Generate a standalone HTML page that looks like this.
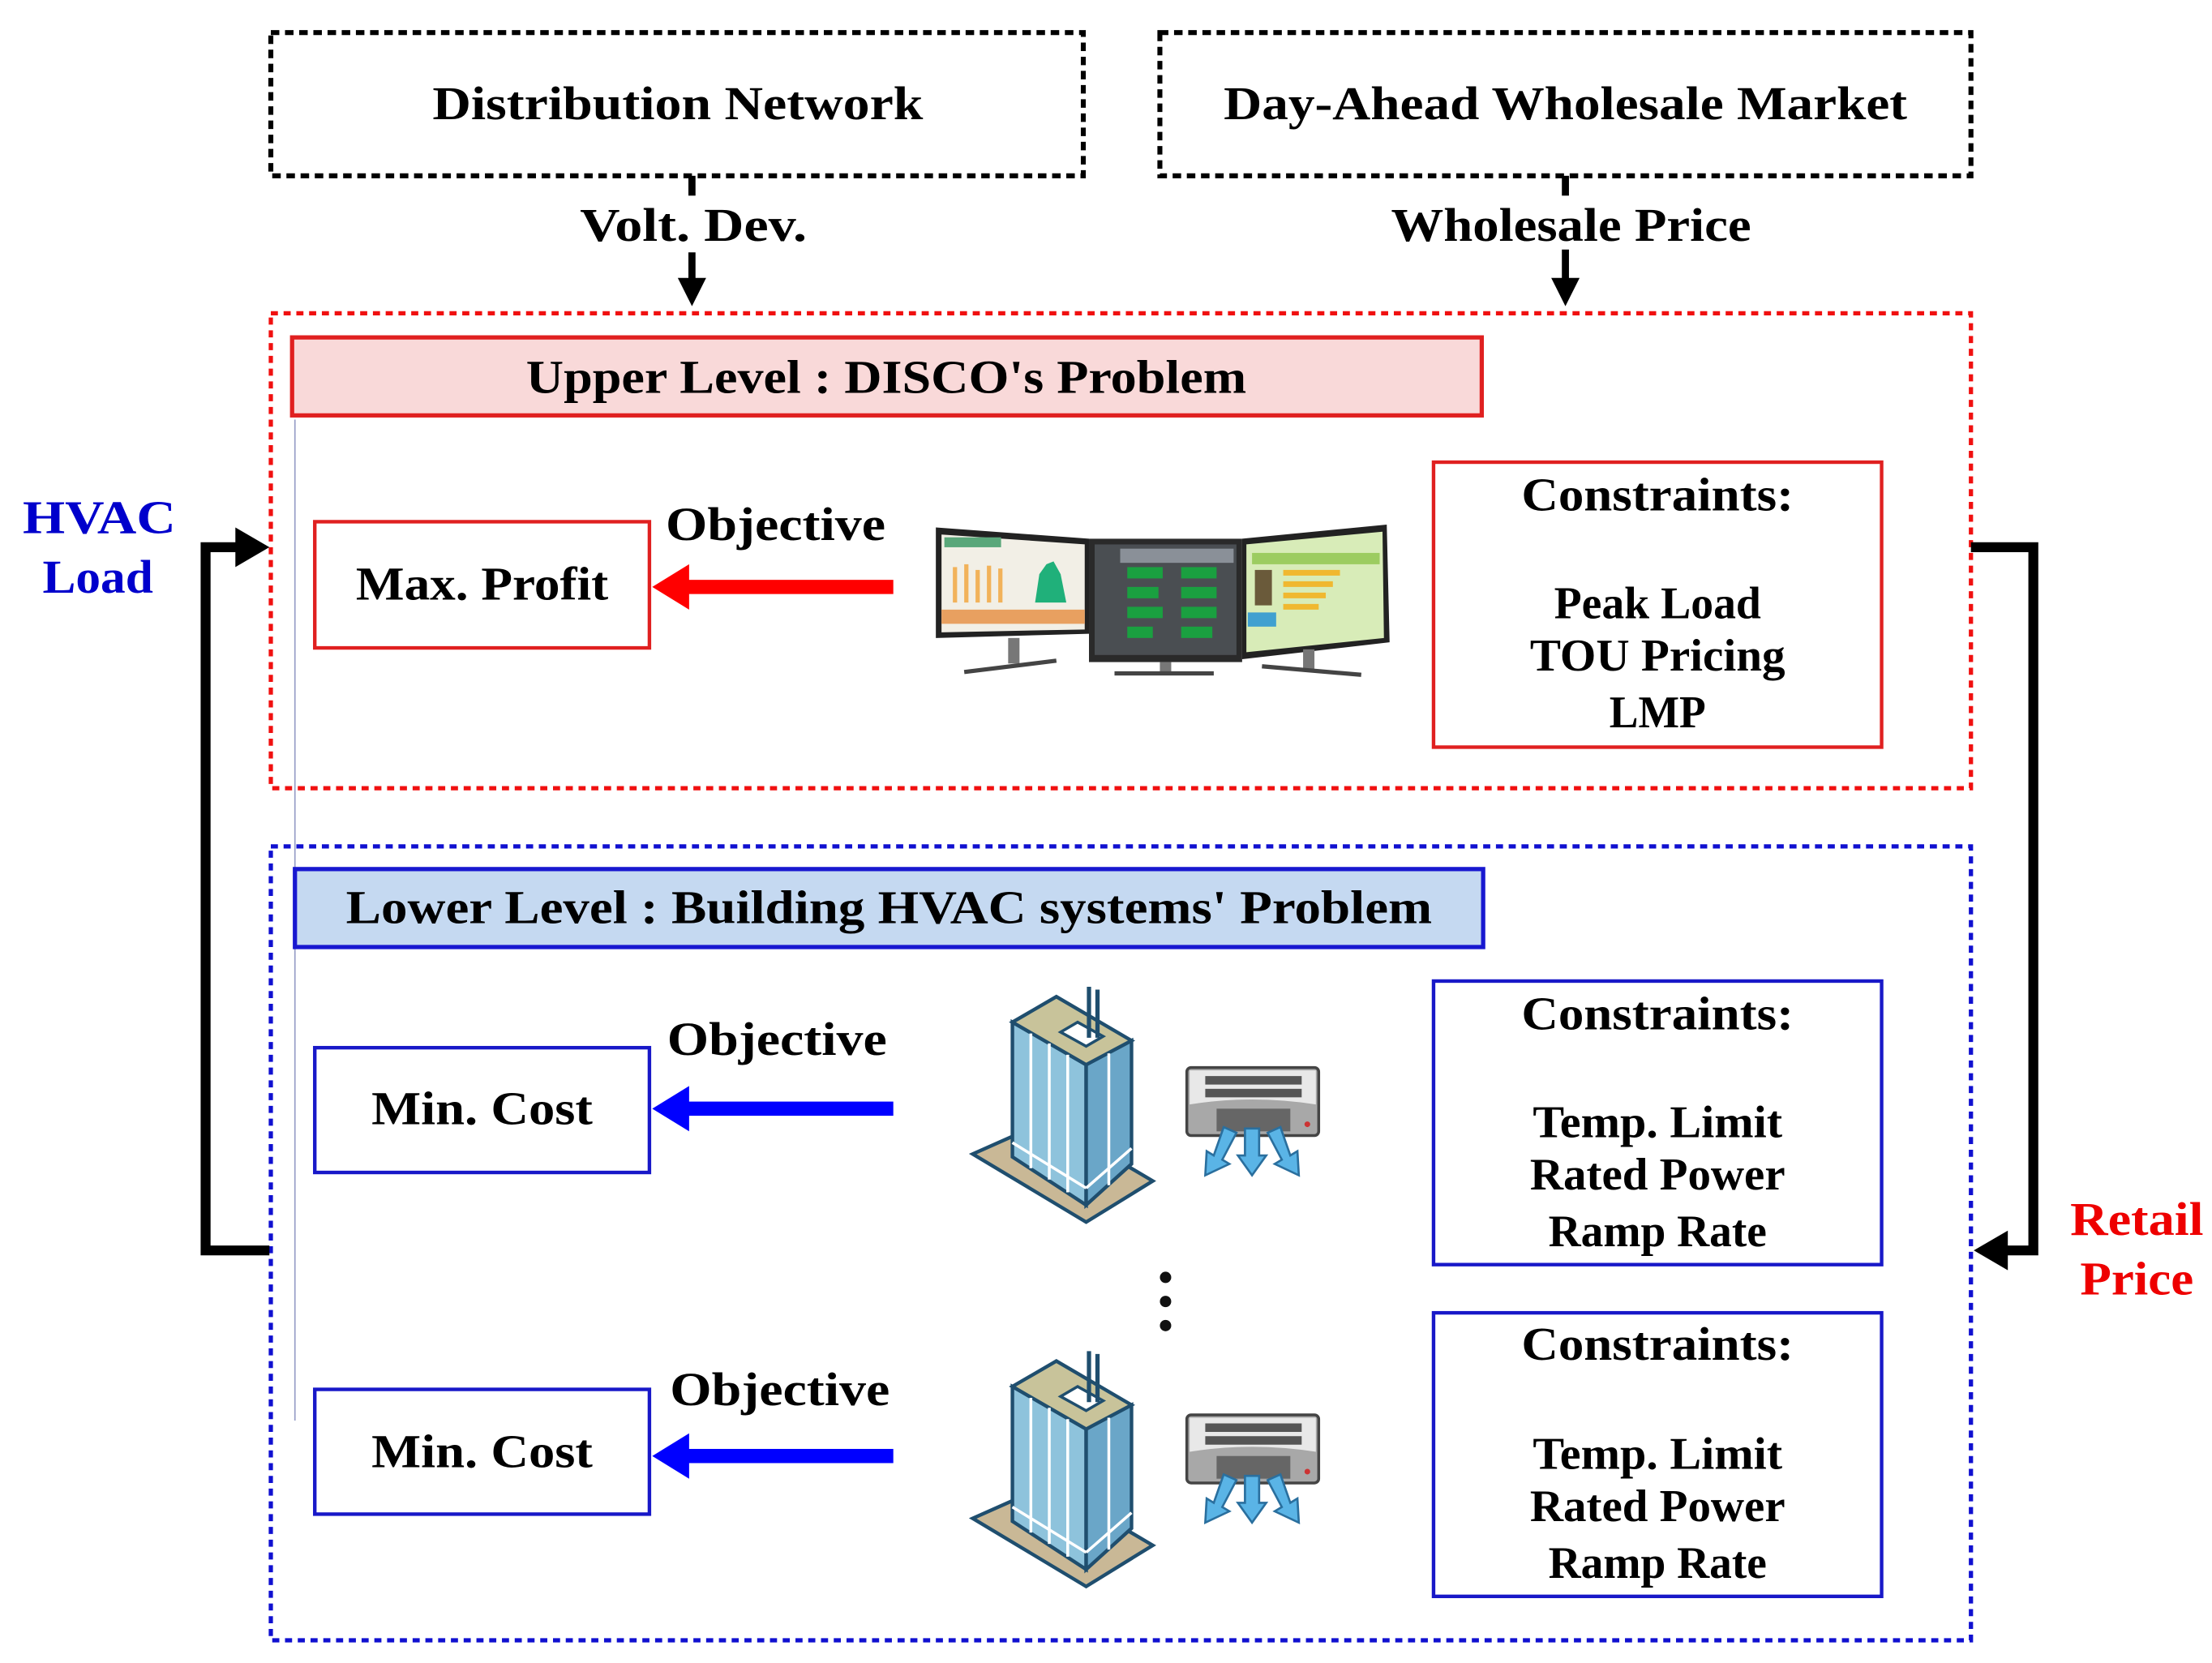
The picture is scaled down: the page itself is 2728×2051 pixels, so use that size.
<!DOCTYPE html>
<html><head><meta charset="utf-8"><style>
html,body{margin:0;padding:0;background:#fff;}
svg{display:block;}
text{font-family:"Liberation Serif",serif;font-weight:bold;}
</style></head><body>
<svg width="2728" height="2051" viewBox="0 0 1560 1173" preserveAspectRatio="none" xmlns="http://www.w3.org/2000/svg">
<defs>
<g id="bld">
  <polygon points="686,814 740,790 813,833 766,862" fill="#c9b896" stroke="#1f4e6e" stroke-width="2.5"/>
  <polygon points="714,721 766,751 766,850 714,816" fill="#8ec3dc" stroke="#1f4e6e" stroke-width="2.5"/>
  <polygon points="766,751 798,734 798,821 766,850" fill="#6aa6c8" stroke="#1f4e6e" stroke-width="2.5"/>
  <polygon points="714,721 745,703 798,734 766,751" fill="#c8c39a" stroke="#1f4e6e" stroke-width="2.5"/>
  <polygon points="748,728 760,721 778,731 766,738" fill="#fff" stroke="#1f4e6e" stroke-width="2"/>
  <line x1="768" y1="696" x2="768" y2="732" stroke="#1f4e6e" stroke-width="3"/>
  <line x1="774" y1="698" x2="774" y2="732" stroke="#1f4e6e" stroke-width="3"/>
  <g stroke="#fff" stroke-width="2">
    <line x1="727" y1="729" x2="727" y2="824"/><line x1="740" y1="736" x2="740" y2="832"/><line x1="753" y1="744" x2="753" y2="841"/>
    <line x1="782" y1="743" x2="782" y2="836"/>
    <line x1="714" y1="806" x2="766" y2="838"/><line x1="766" y1="838" x2="798" y2="810"/>
  </g>
</g>
<g id="ac">
  <rect x="837" y="753" width="93" height="48" rx="3" fill="#a8a8a8" stroke="#444" stroke-width="2"/>
  <path d="M839 755 H928 V779 Q883 772 839 779 Z" fill="#e8e8e8"/>
  <rect x="850" y="759" width="68" height="6" fill="#555"/>
  <rect x="850" y="768" width="68" height="6" fill="#555"/>
  <rect x="858" y="782" width="52" height="16" fill="#666"/>
  <circle cx="922" cy="793" r="2" fill="#c33"/>
  <g fill="#5ab4e6" stroke="#2a6f9e" stroke-width="1.5">
    <polygon points="878,796 888,796 888,815 893,815 883,829 873,815 878,815"/>
    <polygon points="863,795 872,799 862,818 867,821 850,829 851,812 856,815"/>
    <polygon points="894,799 903,795 910,815 915,812 916,829 899,821 904,818"/>
  </g>
</g>
</defs>

<!-- top boxes -->
<rect x="191" y="23" width="573" height="101" fill="none" stroke="#000" stroke-width="3.5" stroke-dasharray="6,4"/>
<rect x="818" y="23" width="572" height="101" fill="none" stroke="#000" stroke-width="3.5" stroke-dasharray="6,4"/>
<text x="478" y="84" font-size="33" text-anchor="middle" textLength="346" lengthAdjust="spacingAndGlyphs">Distribution Network</text>
<text x="1104" y="84" font-size="33" text-anchor="middle" textLength="482" lengthAdjust="spacingAndGlyphs">Day-Ahead Wholesale Market</text>

<!-- down arrows -->
<line x1="488" y1="124" x2="488" y2="138" stroke="#000" stroke-width="5"/>
<line x1="488" y1="178" x2="488" y2="200" stroke="#000" stroke-width="5"/>
<polygon points="478,196 498,196 488,216" fill="#000"/>
<text x="489" y="170" font-size="33" text-anchor="middle" textLength="160" lengthAdjust="spacingAndGlyphs">Volt. Dev.</text>
<line x1="1104" y1="124" x2="1104" y2="138" stroke="#000" stroke-width="5"/>
<line x1="1104" y1="176" x2="1104" y2="200" stroke="#000" stroke-width="5"/>
<polygon points="1094,196 1114,196 1104,216" fill="#000"/>
<text x="1108" y="170" font-size="33" text-anchor="middle" textLength="254" lengthAdjust="spacingAndGlyphs">Wholesale Price</text>

<!-- upper level -->
<rect x="191" y="221" width="1199" height="335" fill="none" stroke="#f01010" stroke-width="3" stroke-dasharray="5,4"/>
<rect x="206" y="238" width="839" height="55" fill="#f9d9d9" stroke="#e02020" stroke-width="3"/>
<text x="625" y="277" font-size="33" text-anchor="middle" textLength="508" lengthAdjust="spacingAndGlyphs">Upper Level : DISCO's Problem</text>
<line x1="208" y1="296" x2="208" y2="1002" stroke="#9aa0c8" stroke-width="1"/>

<rect x="222" y="368" width="236" height="89" fill="#fff" stroke="#e02020" stroke-width="2.5"/>
<text x="340" y="423" font-size="33" text-anchor="middle" textLength="178" lengthAdjust="spacingAndGlyphs">Max. Profit</text>
<text x="547" y="381" font-size="33" text-anchor="middle" textLength="155" lengthAdjust="spacingAndGlyphs">Objective</text>
<rect x="480" y="409" width="150" height="10" fill="#ff0000"/>
<polygon points="460,414 486,398 486,430" fill="#ff0000"/>

<!-- monitors -->
<g>
  <polygon points="660,372 768,380 768,447 660,450" fill="#222"/>
  <polygon points="664,377 765,384 765,444 664,446" fill="#f2efe6"/>
  <rect x="666" y="379" width="40" height="7" fill="#5aa77a"/>
  <g fill="#f2b25a"><rect x="672" y="400" width="3" height="25"/><rect x="680" y="398" width="3" height="27"/><rect x="688" y="402" width="3" height="23"/><rect x="696" y="399" width="3" height="26"/><rect x="704" y="401" width="3" height="24"/></g>
  <polygon points="730,425 733,405 738,398 743,396 748,405 752,425" fill="#20b07a"/>
  <rect x="664" y="430" width="101" height="10" fill="#e8a060"/>
  <rect x="768" y="380" width="108" height="87" fill="#2a2a2a"/>
  <rect x="772" y="384" width="100" height="78" fill="#4a4e52"/>
  <g fill="#1aa040"><rect x="795" y="400" width="25" height="8"/><rect x="833" y="400" width="25" height="8"/><rect x="795" y="414" width="22" height="8"/><rect x="833" y="414" width="25" height="8"/><rect x="795" y="428" width="25" height="8"/><rect x="833" y="428" width="25" height="8"/><rect x="795" y="442" width="18" height="8"/><rect x="833" y="442" width="22" height="8"/></g>
  <rect x="790" y="387" width="80" height="10" fill="#8a9098"/>
  <polygon points="876,380 978,370 980,453 876,465" fill="#222"/>
  <polygon points="879,384 975,375 976,450 879,460" fill="#d8ecb8"/>
  <rect x="883" y="390" width="90" height="8" fill="#9ccc60"/>
  <rect x="885" y="402" width="12" height="25" fill="#6a5a3a"/>
  <g fill="#f0b830"><rect x="905" y="402" width="40" height="4"/><rect x="905" y="410" width="35" height="4"/><rect x="905" y="418" width="30" height="4"/><rect x="905" y="426" width="25" height="4"/></g>
  <rect x="880" y="432" width="20" height="10" fill="#40a0d0"/>
  <g fill="#777"><rect x="711" y="450" width="8" height="18"/><rect x="818" y="467" width="8" height="8"/><rect x="919" y="458" width="8" height="14"/></g>
  <g stroke="#444" stroke-width="3"><line x1="680" y1="474" x2="745" y2="466"/><line x1="786" y1="475" x2="856" y2="475"/><line x1="890" y1="470" x2="960" y2="476"/></g>
</g>

<rect x="1011" y="326" width="316" height="201" fill="#fff" stroke="#e02020" stroke-width="2.5"/>
<text x="1169" y="360" font-size="33" text-anchor="middle" textLength="192" lengthAdjust="spacingAndGlyphs">Constraints:</text>
<text x="1169" y="436" font-size="32" text-anchor="middle" textLength="146" lengthAdjust="spacingAndGlyphs">Peak Load</text>
<text x="1169" y="473" font-size="32" text-anchor="middle" textLength="180" lengthAdjust="spacingAndGlyphs">TOU Pricing</text>
<text x="1169" y="513" font-size="32" text-anchor="middle" textLength="68" lengthAdjust="spacingAndGlyphs">LMP</text>

<!-- lower level -->
<rect x="191" y="597" width="1199" height="560" fill="none" stroke="#1010d0" stroke-width="3" stroke-dasharray="5,4"/>
<rect x="208" y="613" width="838" height="55" fill="#c5d9f1" stroke="#1818d0" stroke-width="3"/>
<text x="627" y="651" font-size="33" text-anchor="middle" textLength="766" lengthAdjust="spacingAndGlyphs">Lower Level : Building HVAC systems' Problem</text>

<rect x="222" y="739" width="236" height="88" fill="#fff" stroke="#1818c8" stroke-width="2.5"/>
<text x="340" y="793" font-size="33" text-anchor="middle" textLength="156" lengthAdjust="spacingAndGlyphs">Min. Cost</text>
<text x="548" y="744" font-size="33" text-anchor="middle" textLength="155" lengthAdjust="spacingAndGlyphs">Objective</text>
<rect x="480" y="777" width="150" height="10" fill="#0000ff"/>
<polygon points="460,782 486,766 486,798" fill="#0000ff"/>
<use href="#bld"/>
<use href="#ac"/>

<rect x="1011" y="692" width="316" height="200" fill="#fff" stroke="#1818c8" stroke-width="2.5"/>
<text x="1169" y="726" font-size="33" text-anchor="middle" textLength="192" lengthAdjust="spacingAndGlyphs">Constraints:</text>
<text x="1169" y="802" font-size="32" text-anchor="middle" textLength="176" lengthAdjust="spacingAndGlyphs">Temp. Limit</text>
<text x="1169" y="839" font-size="32" text-anchor="middle" textLength="180" lengthAdjust="spacingAndGlyphs">Rated Power</text>
<text x="1169" y="879" font-size="32" text-anchor="middle" textLength="154" lengthAdjust="spacingAndGlyphs">Ramp Rate</text>

<circle cx="822" cy="901" r="4" fill="#111"/>
<circle cx="822" cy="918" r="4" fill="#111"/>
<circle cx="822" cy="935" r="4" fill="#111"/>

<rect x="222" y="980" width="236" height="88" fill="#fff" stroke="#1818c8" stroke-width="2.5"/>
<text x="340" y="1035" font-size="33" text-anchor="middle" textLength="156" lengthAdjust="spacingAndGlyphs">Min. Cost</text>
<text x="550" y="991" font-size="33" text-anchor="middle" textLength="155" lengthAdjust="spacingAndGlyphs">Objective</text>
<rect x="480" y="1022" width="150" height="10" fill="#0000ff"/>
<polygon points="460,1027 486,1011 486,1043" fill="#0000ff"/>
<use href="#bld" transform="translate(0,257)"/>
<use href="#ac" transform="translate(0,245)"/>

<rect x="1011" y="926" width="316" height="200" fill="#fff" stroke="#1818c8" stroke-width="2.5"/>
<text x="1169" y="959" font-size="33" text-anchor="middle" textLength="192" lengthAdjust="spacingAndGlyphs">Constraints:</text>
<text x="1169" y="1036" font-size="32" text-anchor="middle" textLength="176" lengthAdjust="spacingAndGlyphs">Temp. Limit</text>
<text x="1169" y="1073" font-size="32" text-anchor="middle" textLength="180" lengthAdjust="spacingAndGlyphs">Rated Power</text>
<text x="1169" y="1113" font-size="32" text-anchor="middle" textLength="154" lengthAdjust="spacingAndGlyphs">Ramp Rate</text>

<!-- feedback loops -->
<polyline points="190,882 145,882 145,386 170,386" fill="none" stroke="#000" stroke-width="7"/>
<polygon points="166,372 190,386 166,400" fill="#000"/>
<text x="70" y="376" font-size="33" text-anchor="middle" fill="#0000cc" textLength="108" lengthAdjust="spacingAndGlyphs">HVAC</text>
<text x="69" y="418" font-size="33" text-anchor="middle" fill="#0000cc" textLength="78" lengthAdjust="spacingAndGlyphs">Load</text>

<polyline points="1390,386 1434,386 1434,882 1412,882" fill="none" stroke="#000" stroke-width="7"/>
<polygon points="1416,868 1392,882 1416,896" fill="#000"/>
<text x="1507" y="871" font-size="33" text-anchor="middle" fill="#ee0000" textLength="94" lengthAdjust="spacingAndGlyphs">Retail</text>
<text x="1507" y="913" font-size="33" text-anchor="middle" fill="#ee0000" textLength="80" lengthAdjust="spacingAndGlyphs">Price</text>
</svg>
</body></html>
